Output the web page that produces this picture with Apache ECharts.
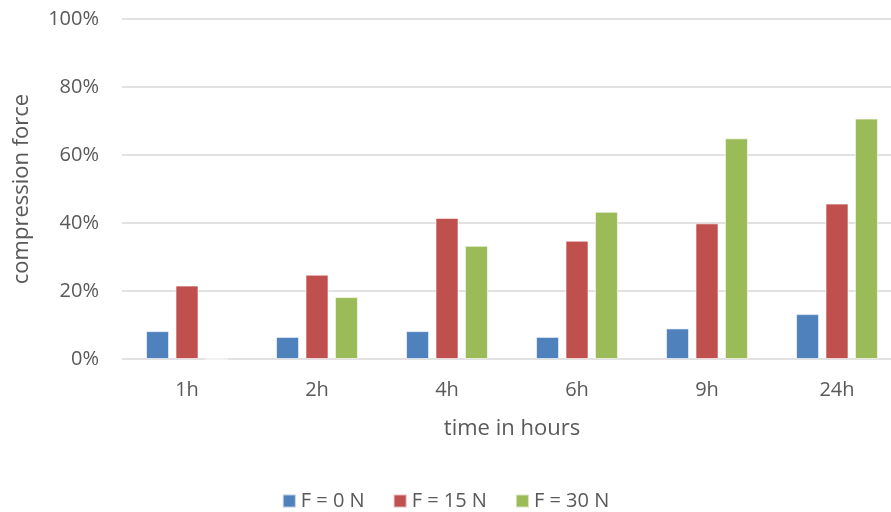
<!DOCTYPE html>
<html>
<head>
<meta charset="utf-8">
<script src="https://cdn.jsdelivr.net/npm/echarts@6/dist/echarts.min.js"></script>
<style>html,body{margin:0;padding:0;background:#fff}#c{width:891px;height:512px}</style>
</head>
<body>
<div id="c"></div>
<script>
const categories = ['1h', '2h', '4h', '6h', '9h', '24h'];
const seriesNames = ['F = 0 N', 'F = 15 N', 'F = 30 N'];
const f0 = [8.2, 6.5, 8.2, 6.5, 9.0, 13.2];
const f15 = [21.6, 24.8, 41.5, 34.8, 39.9, 45.7];
const f30 = [0, 18.2, 33.3, 43.3, 64.9, 70.7];
const yTicks = [0, 20, 40, 60, 80, 100];
const colors = ['#4F81BD', '#C0504D', '#9BBB59'];

const font = '"Open Sans", "Liberation Sans", sans-serif';
const chart = echarts.init(document.getElementById('c'), null, {renderer: 'canvas'});
const mk = (name, data, i) => ({
  name, type: 'bar', data,
  barWidth: 23, barGap: '28%',
  itemStyle: {color: colors[i], borderColor: 'rgba(255,255,255,0.6)', borderWidth: 1},
  emphasis: {disabled: true}
});
chart.setOption({
  animation: false,
  textStyle: {fontFamily: font},
  grid: {left: 122, top: 19, width: 780, height: 340, containLabel: false, outerBoundsMode: 'none'},
  legend: {
    data: seriesNames, top: 486, left: 'center',
    itemWidth: 13, itemHeight: 13, itemGap: 28, icon: 'rect',
    textStyle: {color: '#595959', fontSize: 20, fontFamily: font}
  },
  xAxis: {
    type: 'category', data: categories,
    axisLine: {show: false}, axisTick: {show: false},
    axisLabel: {color: '#595959', fontSize: 20, margin: 21},
    name: 'time in hours', nameLocation: 'middle', nameGap: 59,
    nameTextStyle: {color: '#595959', fontSize: 22}
  },
  yAxis: {
    type: 'value', min: yTicks[0], max: yTicks[yTicks.length - 1], interval: 20,
    axisLine: {show: false}, axisTick: {show: false},
    axisLabel: {color: '#595959', fontSize: 20, margin: 23, formatter: v => v + '%'},
    splitLine: {lineStyle: {color: '#D9D9D9', width: 1.5}},
    name: 'compression force', nameLocation: 'middle', nameGap: 89,
    nameTextStyle: {color: '#595959', fontSize: 22}
  },
  series: [mk(seriesNames[0], f0, 0), mk(seriesNames[1], f15, 1), mk(seriesNames[2], f30, 2)]
});
</script>
</body>
</html>
